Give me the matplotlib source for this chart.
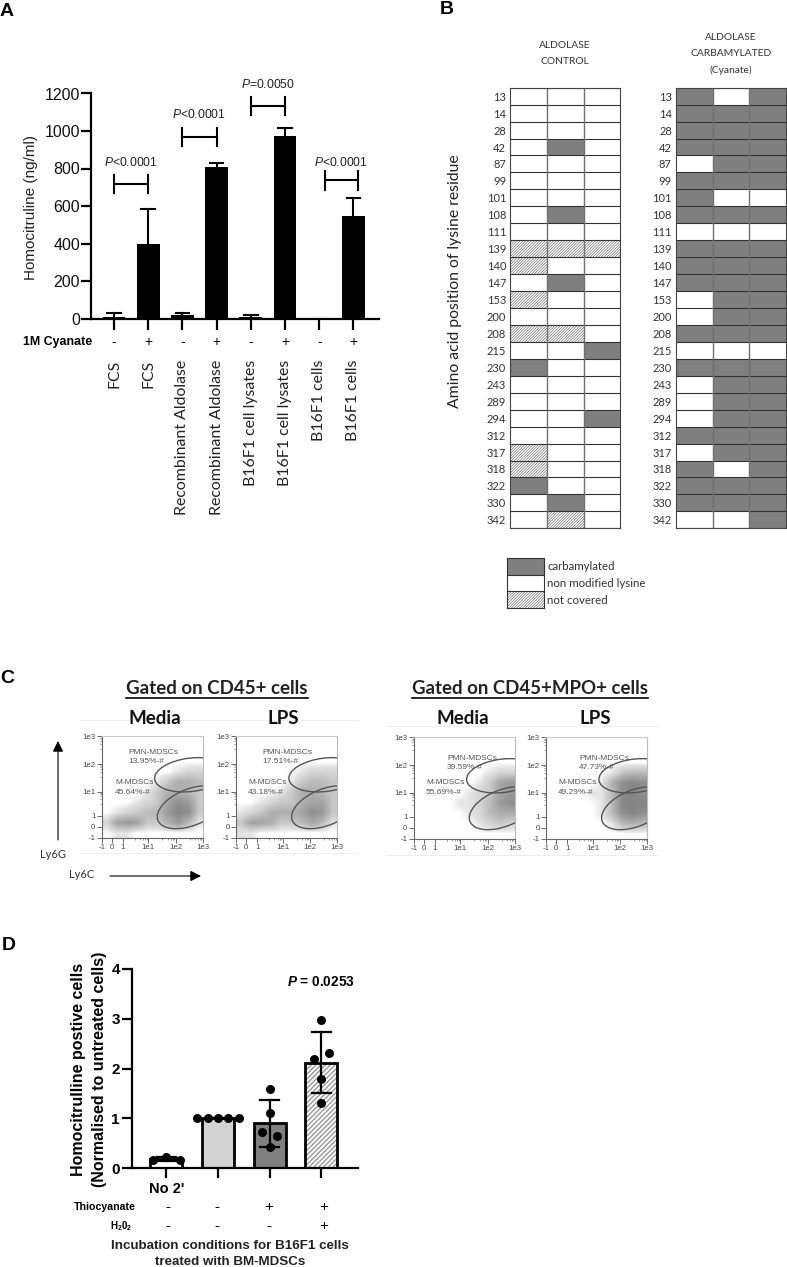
import numpy as np
import matplotlib
matplotlib.use('Agg')
import matplotlib.pyplot as plt
from matplotlib.colors import LinearSegmentedColormap
from matplotlib.patches import Ellipse, FancyArrowPatch, Rectangle

W, H = 787, 1267
plt.rcParams['font.family'] = ['Liberation Sans', 'DejaVu Sans']
plt.rcParams['mathtext.fontset'] = 'custom'
plt.rcParams['mathtext.rm'] = 'Liberation Sans'
plt.rcParams['mathtext.it'] = 'Liberation Sans:italic'
plt.rcParams['mathtext.bf'] = 'Liberation Sans:bold'
plt.rcParams['mathtext.bfit'] = 'Liberation Sans:italic:bold'
plt.rcParams['hatch.linewidth'] = 0.4

# panel A
a_labels = ['FCS', 'FCS', 'Recombinant Aldolase', 'Recombinant Aldolase',
            'B16F1 cell lysates', 'B16F1 cell lysates', 'B16F1 cells', 'B16F1 cells']
a_values = [8, 397, 18, 808, 8, 975, 0, 547]
a_err_top = [27, 585, 27, 830, 20, 1015, 0, 645]
a_signs = ['-', '+', '-', '+', '-', '+', '-', '+']
a_pvalues = ['<0.0001', '<0.0001', '=0.0050', '<0.0001']
a_bracket_y = [717, 968, 1133, 738]

# panel B
residues = [13, 14, 28, 42, 87, 99, 101, 108, 111, 139, 140, 147, 153,
            200, 208, 215, 230, 243, 289, 294, 312, 317, 318, 322, 330, 342]
# 0 non modified, 1 carbamylated, 2 not covered
control = ['000', '000', '000', '010', '000', '000', '000', '010', '000', '222', '200', '010', '200',
           '000', '220', '001', '100', '000', '000', '001', '000', '200', '200', '100', '010', '020']
cyanate = ['101', '111', '111', '111', '011', '111', '100', '111', '000', '111', '111', '111', '011',
           '011', '111', '000', '111', '011', '011', '011', '111', '011', '101', '111', '111', '001']
legend_labels = ['carbamylated', 'non modified lysine', 'not covered']

# panel C, dot density read by eye on a 10x10 grid, top row first
dens_1 = [[0, 0, 0, 0, 0, 0, 0, 0, 0, 0], [0, 0, 0, 0, 0, 0, 0, 0, 0, 0], [0, 0, 0, 0, 0, 0, 0, 0, 0, 0],
          [0, 0, 0, 0, 0, 0, 0, 1, 2, 2], [0, 0, 0, 0, 0, 1, 3, 5, 5, 4], [0, 0, 0, 0, 1, 3, 5, 5, 4, 3],
          [0, 0, 0, 1, 2, 3, 6, 8, 7, 3], [0, 1, 2, 3, 4, 4, 7, 9, 8, 3], [2, 6, 7, 6, 3, 3, 5, 7, 4, 1],
          [0, 1, 1, 0, 0, 0, 0, 0, 0, 0]]
dens_2 = [[0, 0, 0, 0, 0, 0, 0, 0, 0, 0], [0, 0, 0, 0, 0, 0, 0, 0, 0, 0], [0, 0, 0, 0, 0, 0, 0, 0, 0, 0],
          [0, 0, 0, 0, 0, 0, 1, 2, 2, 2], [0, 0, 0, 0, 0, 1, 3, 4, 4, 3], [0, 0, 0, 0, 1, 3, 5, 5, 4, 3],
          [0, 0, 1, 2, 3, 3, 5, 6, 6, 3], [1, 2, 3, 5, 5, 5, 6, 8, 7, 3], [3, 6, 6, 5, 3, 3, 4, 6, 4, 1],
          [1, 1, 0, 0, 0, 0, 0, 0, 0, 0]]
dens_3 = [[0, 0, 0, 0, 0, 0, 0, 0, 0, 0], [0, 0, 0, 0, 0, 0, 0, 0, 0, 0], [0, 0, 0, 0, 0, 0, 0, 0, 0, 0],
          [0, 0, 0, 0, 0, 0, 0, 1, 2, 2], [0, 0, 0, 0, 0, 0, 1, 3, 6, 7], [0, 0, 0, 0, 0, 1, 2, 3, 6, 7],
          [0, 0, 0, 0, 1, 1, 2, 4, 7, 8], [0, 0, 0, 0, 0, 1, 2, 4, 5, 5], [0, 0, 0, 0, 0, 0, 1, 2, 3, 2],
          [0, 0, 0, 0, 0, 0, 0, 0, 0, 0]]
dens_4 = [[0, 0, 0, 0, 0, 0, 0, 0, 0, 0], [0, 0, 0, 0, 0, 0, 0, 0, 0, 0], [0, 0, 0, 0, 0, 0, 0, 0, 0, 0],
          [0, 0, 0, 0, 0, 0, 1, 3, 4, 4], [0, 0, 0, 0, 0, 1, 5, 8, 9, 8], [0, 0, 0, 0, 1, 1, 4, 8, 9, 8],
          [0, 0, 0, 0, 0, 1, 4, 9, 9, 9], [0, 0, 0, 0, 0, 1, 4, 8, 9, 8], [0, 0, 0, 0, 0, 0, 1, 4, 5, 4],
          [0, 0, 0, 0, 0, 0, 0, 0, 0, 0]]
flow_ticks = ['-1', '0', '1', '1e1', '1e2', '1e3']
pmn = ['13.95%-#', '17.51%-#', '39.59%-#', '47.73%-#']
mono = ['45.64%-#', '43.18%-#', '55.69%-#', '49.29%-#']

# panel D
d_labels = ["No 2'", '', '', '']
d_values = [0.18, 1.0, 0.9, 2.12]
d_err_low = [0.14, 1.0, 0.43, 1.51]
d_err_top = [0.22, 1.0, 1.37, 2.74]
d_points = [[0.17, 0.23, 0.17], [1.0, 1.0, 1.0, 1.0, 1.0],
            [1.6, 1.1, 0.72, 0.65, 0.43], [2.97, 2.32, 2.2, 1.8, 1.32]]
d_jitter = [[-0.26, 0, 0.26], [-0.4, -0.2, 0, 0.2, 0.4],
            [0, 0, -0.15, 0.15, 0], [0, 0.15, -0.15, 0, 0]]
thio = ['-', '-', '+', '+']
h2o2 = ['-', '-', '-', '+']

LATO = ['Lato', 'DejaVu Sans']
fig = plt.figure(figsize=(W / 100, H / 100), dpi=100)


def px_axes(x0, y0, x1, y1):
    return fig.add_axes([x0 / W, 1 - y1 / H, (x1 - x0) / W, (y1 - y0) / H])


def txt(x, y, s, **kw):
    kw.setdefault('ha', 'center')
    kw.setdefault('va', 'center')
    return fig.text(x / W, 1 - y / H, s, **kw)


def fig_line(xs, ys, **kw):
    fig.add_artist(plt.Line2D([x / W for x in xs], [1 - y / H for y in ys], **kw))


def fig_arrow(p0, p1):
    fig.add_artist(FancyArrowPatch((p0[0] / W, 1 - p0[1] / H), (p1[0] / W, 1 - p1[1] / H),
                                   transform=fig.transFigure, arrowstyle='-|>', mutation_scale=16,
                                   color='black', lw=0.8, shrinkA=0, shrinkB=0))


txt(7, 12, 'A', fontsize=14, fontweight='bold')
txt(447, 9, 'B', fontsize=14, fontweight='bold')
txt(7, 678, 'C', fontsize=14, fontweight='bold')
txt(9, 945, 'D', fontsize=14, fontweight='bold')

# ---------------------------------------------------------------- A
ax = px_axes(91, 93.5, 379, 318.5)
ax.set_xlim((91 - 114) / 34.2, (379 - 114) / 34.2)
ax.set_ylim(0, 1200)
pos = np.arange(8)
ax.bar(pos, a_values, width=0.67, color='black', clip_on=False, zorder=2)
for i in range(8):
    ax.plot([i, i], [a_values[i], a_err_top[i]], color='black', lw=1.5, zorder=1)
    ax.plot([i - 0.2, i + 0.2], [a_err_top[i], a_err_top[i]], color='black', lw=1.5, zorder=1)
for k, y in enumerate(a_bracket_y):
    x0, x1 = [0, 2, 4, 6][k], [1, 3, 5, 7][k]
    if k == 3:
        x0, x1 = 6.18, 7.12
    ax.plot([x0, x1], [y, y], color='black', lw=1.5, clip_on=False)
    ax.plot([x0, x0], [y - 50, y + 50], color='black', lw=1.5, clip_on=False)
    ax.plot([x1, x1], [y - 50, y + 50], color='black', lw=1.5, clip_on=False)
for x, y, p in zip([130.7, 199, 268, 341], [162, 115, 85, 162], a_pvalues):
    txt(x, y, r'$\mathit{P}$' + p, fontsize=8.7, color='#222222')
for s in ['top', 'right']:
    ax.spines[s].set_visible(False)
for s in ['left', 'bottom']:
    ax.spines[s].set_linewidth(1.6)
ax.set_yticks(range(0, 1201, 200))
ax.set_xticks(pos)
ax.set_xticklabels([])
ax.tick_params(axis='y', width=1.6, length=7, labelsize=11.5, pad=1, labelcolor='#111111')
ax.tick_params(axis='x', width=1.6, length=8)
ax.set_ylabel('Homocitruline (ng/ml)', fontsize=11, color='#222222')
ax.yaxis.set_label_coords((38 - 91) / 288, (318.5 - 207) / 225)
txt(58, 342, '1M Cyanate', fontsize=8.9, fontweight='bold')
for i, c in enumerate(pos):
    xp = 114 + 34.2 * c
    txt(xp, 342, a_signs[i], fontsize=10)
    txt(xp, 360, a_labels[i], rotation=90, va='top', fontsize=11.4, color='#222222', family=LATO)

# ---------------------------------------------------------------- B
CARB = '#7f7f7f'
DENSE = '/' * 12


def draw_matrix(ax, rows):
    ax.set_xlim(0, 3)
    ax.set_ylim(len(rows), 0)
    for r, row in enumerate(rows):
        for c, v in enumerate(row):
            if v == '1':
                ax.add_patch(Rectangle((c, r), 1, 1, fc=CARB, ec='none'))
            elif v == '2':
                ax.add_patch(Rectangle((c, r), 1, 1, fc='white', ec='#555555', hatch=DENSE, lw=0))
    ax.hlines(range(len(rows) + 1), 0, 3, color='#333333', lw=0.8)
    ax.vlines([1, 2], 0, len(rows), color='#707070', lw=1.0)
    ax.set_yticks(np.arange(len(rows)) + 0.5)
    ax.set_yticklabels(residues, fontsize=8, color='#333333', family=LATO)
    ax.set_xticks([])
    ax.tick_params(axis='y', length=0, pad=3)
    for s in ax.spines.values():
        s.set_color('#444444')
        s.set_linewidth(0.8)


ax = px_axes(510.3, 87.7, 620.3, 528.3)
draw_matrix(ax, control)
ax.set_ylabel('Amino acid position of lysine residue', fontsize=11.3, color='#222222', family=LATO)
ax.yaxis.set_label_coords((462 - 510.3) / 110, (528.3 - 281) / 440.6)
ax = px_axes(676, 87.7, 786, 528.3)
draw_matrix(ax, cyanate)

txt(565, 45, 'ALDOLASE', fontsize=7.4, color='#333333', family=LATO)
txt(565, 62, 'CONTROL', fontsize=7.4, color='#333333', family=LATO)
txt(731, 37, 'ALDOLASE', fontsize=7.4, color='#333333', family=LATO)
txt(731, 53, 'CARBAMYLATED', fontsize=7.4, color='#333333', family=LATO)
txt(731, 70, '(Cyanate)', fontsize=7.4, color='#333333', family=LATO)

# legend
ax = px_axes(507, 557.7, 544, 608.3)
ax.set_xlim(0, 1)
ax.set_ylim(3, 0)
ax.add_patch(Rectangle((0, 0), 1, 1, fc=CARB, ec='none'))
ax.add_patch(Rectangle((0, 2), 1, 1, fc='white', ec='#555555', hatch=DENSE, lw=0))
ax.hlines([1, 2], 0, 1, color='#333333', lw=0.8)
ax.set_xticks([])
ax.set_yticks([])
for s in ax.spines.values():
    s.set_linewidth(0.8)
    s.set_color('#333333')
for i, s in enumerate(legend_labels):
    txt(547, 566.5 + 17 * i, s, ha='left', fontsize=8.3, color='#333333', family=LATO)

# ---------------------------------------------------------------- C
cmap = LinearSegmentedColormap.from_list('flow', [(0, '#ffffff'), (0.12, '#e2e2e2'), (0.5, '#b4b4b4'), (1, '#858585')])
flow_x = [0, 0.10, 0.21, 0.46, 0.73, 1]
flow_y = [0, 0.108, 0.214, 0.454, 0.724, 1]
minor = [0.33, 0.38, 0.41, 0.43, 0.445, 0.60, 0.65, 0.68, 0.70, 0.715, 0.87, 0.92, 0.95, 0.97, 0.985]
boxes = [(101.7, 736.3), (236, 736.3), (413.7, 737.3), (546, 737.3)]
upper_gate = (0.88, 0.62, 0.72, 0.33, 7)
lower_gate = (0.88, 0.30, 0.70, 0.36, 22)
label_pmn = [(128, 752), (262, 752), (447, 758), (579, 758)]
label_mono = [(115, 783), (248, 783), (426, 783), (558, 783)]
for i, d in enumerate([dens_1, dens_2, dens_3, dens_4]):
    bx, by = boxes[i]
    ax = px_axes(bx, by, bx + 101.3, by + 101.3)
    ax.imshow(np.array(d, dtype=float), cmap=cmap, vmin=0, vmax=9, extent=(0, 1, 0, 1),
              aspect='auto', interpolation='bilinear')
    for g in (upper_gate, lower_gate):
        ax.add_patch(Ellipse(g[:2], g[2], g[3], angle=g[4], fc='none', ec='#555555', lw=1.0))
    ax.set_xlim(0, 1)
    ax.set_ylim(0, 1)
    ax.set_xticks(flow_x)
    ax.set_xticklabels(flow_ticks, fontsize=5.6, color='#444444')
    ax.set_yticks(flow_y)
    ax.set_yticklabels(flow_ticks, fontsize=5.6, color='#444444')
    ax.set_xticks(minor, minor=True)
    ax.set_yticks(minor, minor=True)
    ax.tick_params(which='major', length=3.5, width=0.6, pad=1, color='#555555')
    ax.tick_params(which='minor', length=1.5, width=0.4, color='#555555')
    ax.spines['top'].set_color('#cccccc')
    ax.spines['right'].set_color('#bbbbbb')
    ax.spines['left'].set_color('#666666')
    ax.spines['bottom'].set_color('#666666')
    xp, yp = label_pmn[i]
    txt(xp, yp, 'PMN-MDSCs', ha='left', fontsize=6, color='#555555', zorder=5)
    txt(xp, yp + 9.5, pmn[i], ha='left', fontsize=6, color='#555555', zorder=5)
    xp, yp = label_mono[i]
    txt(xp, yp, 'M-MDSCs', ha='left', fontsize=6, color='#555555', zorder=5)
    txt(xp, yp + 9.5, mono[i], ha='left', fontsize=6, color='#555555', zorder=5)

for x0, x1, y in [(80, 358, 720), (80, 358, 853), (387, 658, 726), (387, 658, 855)]:
    fig_line([x0, x1], [y, y], color='#eeeeee', lw=0.7)
txt(217, 688, 'Gated on CD45+ cells', fontsize=13.5, fontweight='bold', color='#222222', family=LATO)
fig_line([126, 308], [698, 698], color='black', lw=1.2)
txt(530, 688, 'Gated on CD45+MPO+ cells', fontsize=13.4, fontweight='bold', color='#222222', family=LATO)
fig_line([412, 648], [698, 698], color='black', lw=1.2)
for x, s in [(155, 'Media'), (283, 'LPS'), (463, 'Media'), (595, 'LPS')]:
    txt(x, 718, s, fontsize=13.5, fontweight='bold', color='#111111', family=LATO)
fig_arrow((58, 840), (58, 741))
fig_arrow((110, 876), (201, 876))
txt(53, 855, 'Ly6G', fontsize=8, color='#333333', family=LATO)
txt(82, 875, 'Ly6C', fontsize=8, color='#333333', family=LATO)

# ---------------------------------------------------------------- D
ax = px_axes(132.3, 969, 357.7, 1168.3)
ax.set_xlim((132.3 - 166.3) / 51.7, (357.7 - 166.3) / 51.7)
ax.set_ylim(0, 4)
colors = ['white', '#d3d3d3', '#808080', 'white']
hatches = [None, None, None, '///////']
pos = np.arange(4)
for i in pos:
    with plt.rc_context({'hatch.linewidth': 1.0}):
        ax.bar(i, d_values[i], width=0.62, color=colors[i], edgecolor='#999999' if hatches[i] else 'black',
               hatch=hatches[i], lw=0, zorder=2)
    ax.bar(i, d_values[i], width=0.62, fill=False, edgecolor='black', lw=2.0, zorder=3)
    ax.scatter(i + np.array(d_jitter[i]), d_points[i], s=42, color='black', zorder=5, clip_on=False, lw=0)
    ax.plot([i, i], [d_err_low[i], d_err_top[i]], color='black', lw=1.6, zorder=4)
    for e in (d_err_low[i], d_err_top[i]):
        ax.plot([i - 0.18, i + 0.18], [e, e], color='black', lw=1.6, zorder=4)
for s in ['top', 'right']:
    ax.spines[s].set_visible(False)
for s in ['left', 'bottom']:
    ax.spines[s].set_linewidth(1.6)
ax.set_yticks(range(5))
ax.set_xticks(pos)
ax.set_xticklabels(d_labels, fontsize=10.5, fontweight='bold')
ax.tick_params(axis='x', width=1.6, length=7, pad=3)
ax.tick_params(axis='y', width=1.6, length=7, labelsize=11, pad=2)
for t in ax.get_yticklabels():
    t.set_fontweight('bold')
ax.set_ylabel('Homocitrulline postive cells\n(Normalised to untreated cells)', fontsize=11.5,
              fontweight='bold', linespacing=1.5)
ax.yaxis.set_label_coords((107 - 132.3) / 225.4, (1168.3 - 1069) / 199.3)
txt(321, 982, r'$\mathbfit{P}$ = 0.0253', fontsize=9.8, fontweight='bold')
txt(136, 1207, 'Thiocyanate', ha='right', fontsize=7.7, fontweight='bold')
txt(132, 1226, r'$\mathbf{H_{2}0_{2}}$', ha='right', fontsize=7)
for x, a, b in zip([168, 217, 269, 324], thio, h2o2):
    txt(x, 1207, a, fontsize=11)
    txt(x, 1226, b, fontsize=11)
txt(230, 1246, 'Incubation conditions for B16F1 cells', fontsize=9.6, fontweight='bold', color='#222222')
txt(230, 1262, 'treated with BM-MDSCs', fontsize=9.6, fontweight='bold', color='#222222')

fig.savefig('out.png', dpi=100)
